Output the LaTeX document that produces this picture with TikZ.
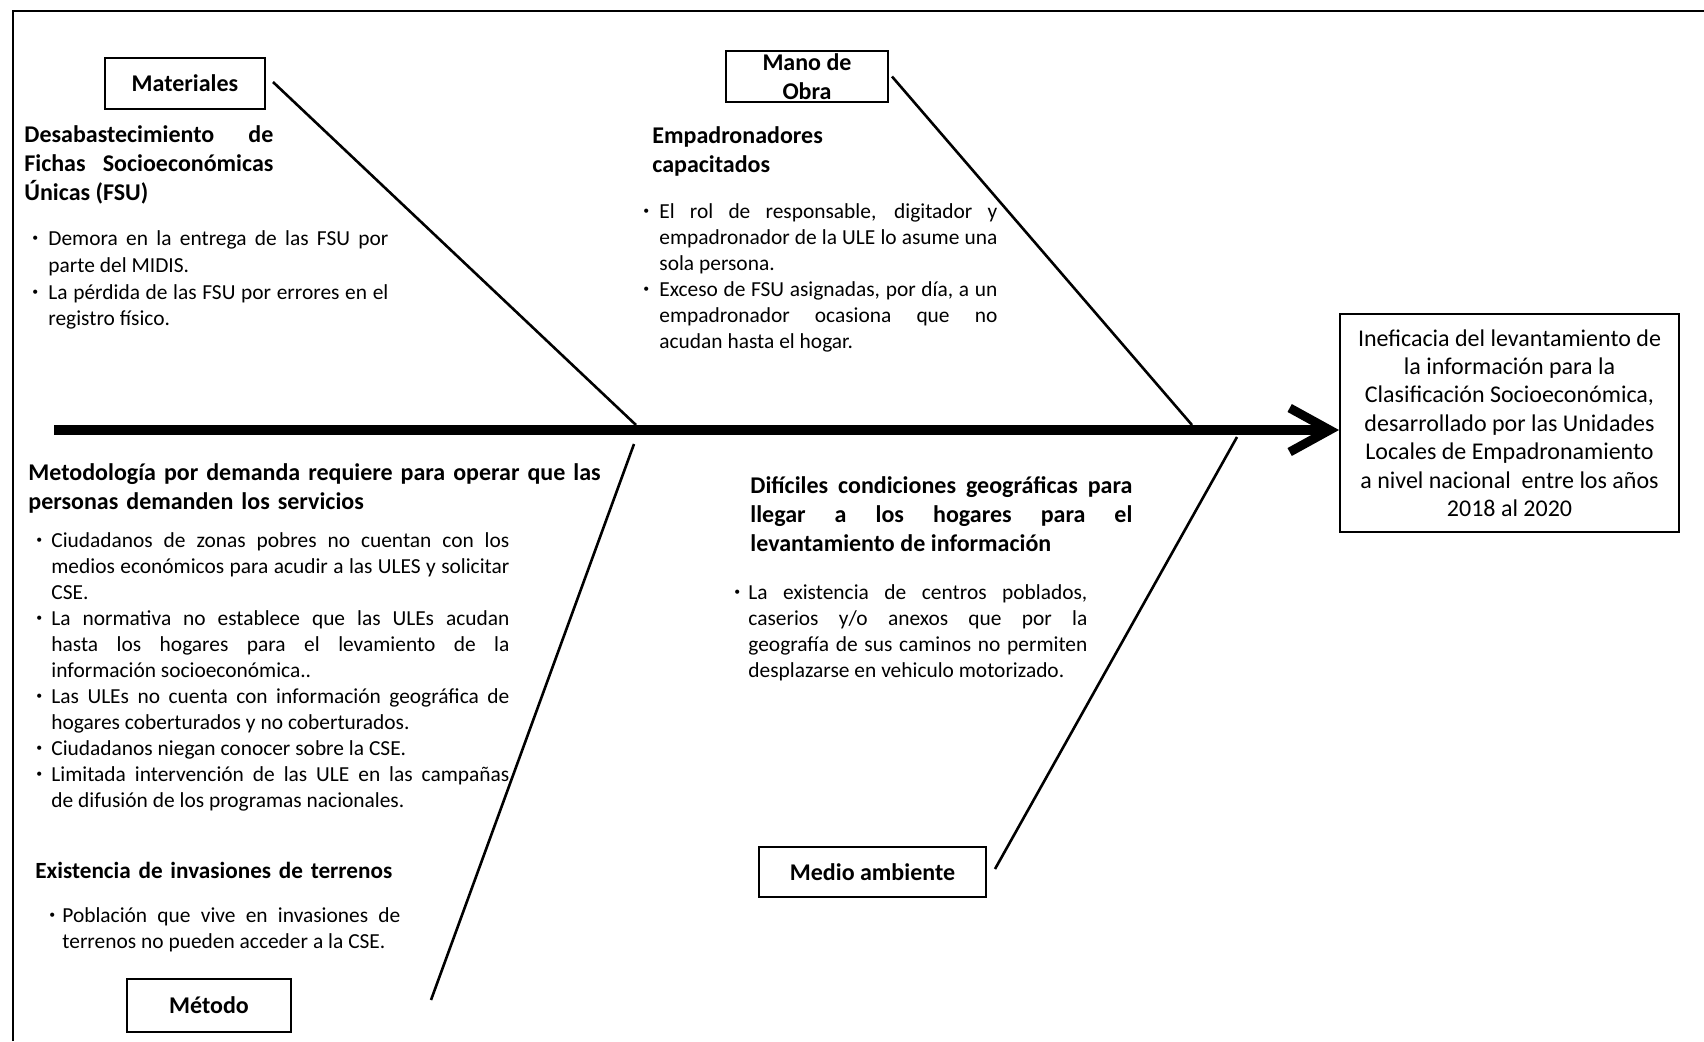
\documentclass[tikz,border=0pt]{standalone}
\usepackage{fontspec}
\setmainfont{Carlito}
\usepackage{graphicx}
\usetikzlibrary{arrows.meta}
\newcommand\bmark[1]{\hangindent=#1\hangafter=1\makebox[#1][l]{\raisebox{0.35ex}{\scalebox{0.55}{•}}}\ignorespaces}
\newcommand\bfirst[1]{\noindent\bmark{#1}}
\newcommand\bitem[1]{\par\noindent\bmark{#1}}
\newcommand\jsp{\spaceskip=0.23em plus 1.5em minus 0.12em\relax}
\tikzset{
 lbl/.style={draw, line width=1pt, font=\fontsize{12}{14.7}\selectfont\bfseries, inner sep=0pt},
 head/.style={anchor=north west, inner sep=0pt, font=\fontsize{12}{14.6}\selectfont\bfseries, align=justify},
 blist/.style={anchor=north west, inner sep=0pt, font=\fontsize{10.7}{13}\selectfont, align=justify},
 bone/.style={line width=1.3pt},
 spine/.style={line width=5pt, -{Straight Barb[length=20pt,width=22pt,line width=4.5pt]}},
 frame/.style={line width=1pt},
}
\begin{document}
\begin{tikzpicture}[x=0.5pt,y=-0.5pt]
\useasboundingbox (0,0) rectangle (1704,1041);
\draw[frame] (13,1041) -- (13,11) -- (1704,11);

% category boxes
\node[lbl, minimum width=80pt, minimum height=25.5pt] (mat) at (185,83.5) {Materiales};
\node[lbl, minimum width=81pt, minimum height=25.5pt] (mano) at (807,76.5) {};
\node[font=\fontsize{12}{14.7}\selectfont\bfseries, align=center, inner sep=0pt] (manot) at (807,76.5) {Mano de\\Obra};
\node[lbl, minimum width=113.5pt, minimum height=25pt] (med) at (872.5,872) {Medio ambiente};
\node[lbl, minimum width=82pt, minimum height=26.5pt] (met) at (209,1005.5) {Método};

% effect
\node[draw, line width=1pt, minimum width=169.5pt, minimum height=109pt, align=center, font=\fontsize{12}{14.2}\selectfont, inner sep=0pt] (res) at (1509.5,423) {Ineficacia del levantamiento de\\la información para la\\Clasificación Socioeconómica,\\desarrollado por las Unidades\\Locales de Empadronamiento\\a nivel nacional\ \ entre los años\\2018 al 2020};

% Materiales texts
\node[head, text width=124.5pt] (hmat) at (24,124) {\jsp\rule{0pt}{9pt}Desabastecimiento de\linebreak Fichas Socioeconómicas\linebreak Únicas (FSU)\par};
\node[blist, text width=178pt, font=\fontsize{10.7}{13.4}\selectfont] (bmat) at (32,229) {\jsp\bfirst{8pt}\rule{0pt}{8pt}Demora en la entrega de las FSU por\linebreak parte del MIDIS.\bitem{8pt}La pérdida de las FSU por errores en el\linebreak registro físico.\par};

% Mano de obra texts
\node[head, text width=150pt, align=left] (hmano) at (652,125) {\rule{0pt}{9pt}Empadronadores\\capacitados};
\node[blist, text width=177pt] (bmano) at (643,202) {\jsp\bfirst{8pt}\rule{0pt}{8pt}El rol de responsable, digitador y\linebreak empadronador de la ULE lo asume una\linebreak sola persona.\bitem{8pt}Exceso de FSU asignadas, por día, a un\linebreak empadronador ocasiona que no\linebreak acudan hasta el hogar.\par};

% Metodo texts
\node[head, text width=320pt, align=left] (hmet) at (28,462) {\rule{0pt}{9pt}Metodología por demanda requiere para operar que las\\personas demanden los servicios};
\node[blist, text width=236.5pt] (bmet) at (36,531) {\jsp\bfirst{7.5pt}\rule{0pt}{8pt}Ciudadanos de zonas pobres no cuentan con los\linebreak medios económicos para acudir a las ULES y solicitar\linebreak CSE.\bitem{7.5pt}La normativa no establece que las ULEs acudan\linebreak hasta los hogares para el levamiento de la\linebreak información socioeconómica..\bitem{7.5pt}Las ULEs no cuenta con información geográfica de\linebreak hogares coberturados y no coberturados.\bitem{7.5pt}Ciudadanos niegan conocer sobre la CSE.\bitem{7.5pt}Limitada intervención de las ULE en las campañas\linebreak de difusión de los programas nacionales.\par};
\node[head, text width=220pt, align=left, font=\fontsize{11.6}{14.6}\selectfont\bfseries] (hinv) at (35,860) {\rule{0pt}{9pt}Existencia de invasiones de terrenos};
\node[blist, text width=175.5pt] (binv) at (49,906) {\jsp\bfirst{6.5pt}\rule{0pt}{8pt}Población que vive en invasiones de\linebreak terrenos no pueden acceder a la CSE.\par};

% Medio ambiente texts
\node[head, text width=191pt, font=\fontsize{12}{14.4}\selectfont\bfseries] (hmed) at (750,475) {\jsp\rule{0pt}{9pt}Difíciles condiciones geográficas para\linebreak llegar a los hogares para el\linebreak levantamiento de información\par};
\node[blist, text width=176.5pt] (bmed) at (734,583) {\jsp\bfirst{7pt}\rule{0pt}{8pt}La existencia de centros poblados,\linebreak caserios y/o anexos que por la\linebreak geografía de sus caminos no permiten\linebreak desplazarse en vehiculo motorizado.\par};

% bones
\coordinate (s0) at (54,430);
\coordinate (b1) at (636,425);
\coordinate (b2) at (1192,425);
\coordinate (b3a) at (634,444);
\coordinate (b3b) at (431,1000);
\coordinate (b4) at (1237,437);
\draw[bone] ([xshift=3.5pt,yshift=0.75pt]mat.east) -- (b1);
\draw[bone] ([xshift=1.5pt]mano.east) -- (b2);
\draw[bone] (b3a) -- (b3b);
\draw[bone] ([xshift=4pt,yshift=1.5pt]med.east) -- (b4);
\draw[spine] (s0) -- (s0 -| res.west);
\end{tikzpicture}
\end{document}
